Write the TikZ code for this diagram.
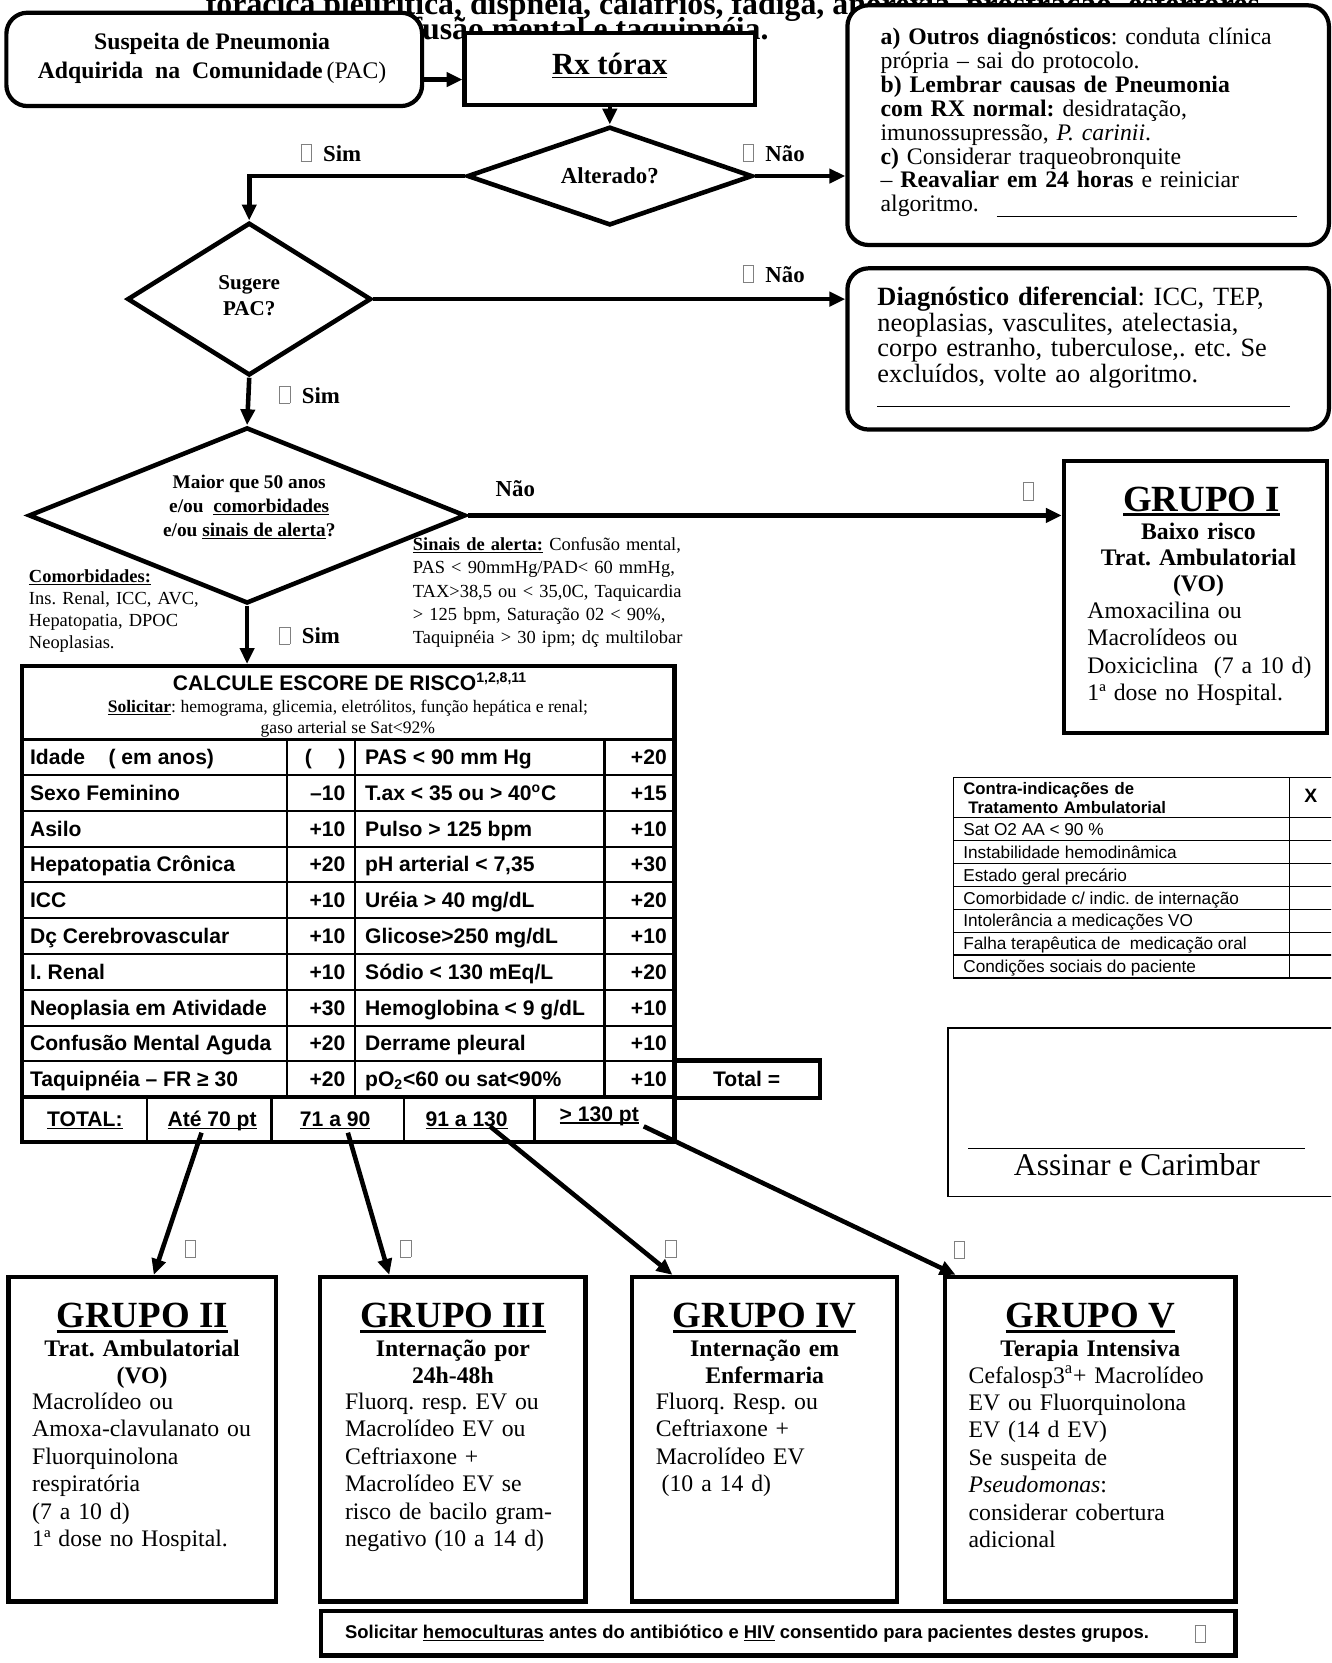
\documentclass[tikz,border=0pt]{standalone}
\usepackage{fontspec}
\setmainfont{Liberation Serif}
\setsansfont{Liberation Sans}
\usetikzlibrary{arrows.meta,shapes.geometric,calc}
\newcommand{\tofu}{{\color{black!50}\setlength\fboxsep{0pt}\setlength\fboxrule{0.45pt}\fbox{\rule{0pt}{0.72em}\hspace{0.42em}}}}
\newcommand{\fsz}[2]{\fontsize{#1}{#2}\selectfont}
\newsavebox\ulbx
\newcommand{\thul}[2][0.8pt]{\sbox\ulbx{#2}\leavevmode\rlap{\rule[-0.13em]{\wd\ulbx}{#1}}\usebox\ulbx}
\frenchspacing
\begin{document}
\frenchspacing
\begin{tikzpicture}[x=0.6035pt,y=-0.6035pt,
  box/.style={draw, line width=2.4pt, fill=white, inner sep=0pt},
  sz/.style 2 args={minimum width=#1*0.6035pt, minimum height=#2*0.6035pt},
  rbox/.style={box, rounded corners=12pt},
  dia/.style={diamond, draw, line width=2.6pt, fill=white, inner sep=0pt, aspect=1},
  arr/.style={line width=2.6pt, -{Triangle[length=9pt,width=8pt]}},
  lbl/.style={font=\bfseries\fsz{13}{15}, inner sep=0pt, anchor=base west},
  tl/.style={inner sep=0pt, anchor=base west, align=left},
  tc/.style={inner sep=0pt, anchor=base, align=center},
  cell/.style={inner sep=0pt, font=\sffamily\bfseries\fsz{12}{14}},
]
\useasboundingbox (0,0) rectangle (1255,1568);
\fill[white] (0,0) rectangle (1255,1568);
\clip (0,0) rectangle (1255,1568);

% background text partly hidden
\node[font=\bfseries\fsz{18.1}{20}, inner sep=0pt, anchor=base] (toptxt1) at (691,14) {torácica pleurítica, dispnéia, calafrios, fadiga, anorexia, prostração, estertores};
\node[font=\bfseries\fsz{18.1}{20}, inner sep=0pt, anchor=base east] (toptxt2) at (725,37) {confusão mental e taquipnéia.};

% top boxes
\node[rbox, sz={392}{88}] (susp) at (202,56) {};
\node[font=\bfseries\fsz{13.5}{16}, align=center, inner sep=0pt] (susptxt) at (200,55) {Suspeita de Pneumonia\\Adquirida~~na~~Comunidade\,{\mdseries(PAC)}};
\node[box, sz={274}{68}] (rx) at (575,65) {};
\node[font=\bfseries\fsz{17.5}{20}, inner sep=0pt] (rxtxt) at (575,62) {\thul[1.1pt]{Rx tórax}};

\node[dia, sz={269}{93}] (alt) at (575,166) {};
\node[font=\bfseries\fsz{13}{15}, inner sep=0pt] (alttxt) at (575,166) {Alterado?};

\node[rbox, sz={454}{226}] (box1) at (1026,118) {};
\node[tl, text width=290pt, font=\fsz{13.5}{13.6}] (box1txt) at (830,42) {\textbf{a) Outros diagnósticos}: conduta clínica\\própria – sai do protocolo.\\\textbf{b) Lembrar causas de Pneumonia}\\\textbf{com RX normal:} desidratação,\\imunossupressão, \textit{P. carinii}.\\\textbf{c)} Considerar traqueobronquite\\– \textbf{Reavaliar em 24 horas} e reiniciar\\algoritmo.};
\draw[line width=0.7pt] (940,204) -- (1223,204);

\node[dia, sz={230}{144}] (sug) at (235,282) {};
\node[font=\bfseries\fsz{12}{14.5}, align=center, inner sep=0pt] (sugtxt) at (235,279) {Sugere\\PAC?};

\node[rbox, sz={454}{152}] (box2) at (1026,329) {};
\node[tl, text width=300pt, font=\fsz{15}{13.6}] (box2txt) at (827,288) {\textbf{Diagnóstico diferencial}: ICC, TEP,\\neoplasias, vasculites, atelectasia,\\corpo estranho, tuberculose,. etc. Se\\excluídos, volte ao algoritmo.};
\draw[line width=0.7pt] (827,383) -- (1216,383);

\node[dia, sz={412}{166}] (maior) at (233,486) {};
\node[font=\bfseries\fsz{11}{13.6}, align=center, inner sep=0pt] (maiortxt) at (235,478) {Maior que 50 anos\\e/ou~~\thul[0.7pt]{comorbidades}\\e/ou \thul[0.7pt]{sinais de alerta}?};

% Grupo I
\node[box, sz={248}{256}] (g1) at (1127,563) {};
\node[font=\bfseries\fsz{21}{24}, inner sep=0pt, anchor=base] (g1t) at (1133,482) {\thul[1.5pt]{GRUPO I}};
\node[tc, text width=160pt, font=\bfseries\fsz{13.5}{14.8}] (g1s) at (1130,509) {Baixo risco\\Trat. Ambulatorial\\(VO)};
\node[tl, text width=200pt, font=\fsz{13.5}{15.6}] (g1b) at (1025,583) {Amoxacilina ou\\Macrolídeos ou\\Doxiciclina~~(7 a 10 d)\\1ª dose no Hospital.};

% side notes
\node[tl, text width=150pt, font=\fsz{10.5}{12.5}] (comorb) at (27,549) {\thul[0.6pt]{\textbf{Comorbidades:}}\\Ins. Renal, ICC, AVC,\\Hepatopatia, DPOC\\Neoplasias.};
\node[tl, text width=220pt, font=\fsz{10.5}{13.3}] (sinais) at (389,519) {\thul[0.6pt]{\textbf{Sinais de alerta:}} Confusão mental,\\PAS < 90mmHg/PAD< 60 mmHg,\\TAX>38,5 ou < 35,0C, Taquicardia\\> 125 bpm, Saturação 02 < 90\%,\\Taquipnéia > 30 ipm; dç multilobar};

% score table
\node[box, sz={615}{449}] (tab) at (328.5,852.5) {};
\draw[line width=1.6pt] (21,697) -- (636,697);
\foreach \k in {1,...,9} \draw[line width=1.2pt] (21,{697+\k*33.75}) -- (636,{697+\k*33.75});
\draw[line width=2pt] (21,1034.5) -- (636,1034.5);
\foreach \xx in {271,335,570} \draw[line width=1.2pt] (\xx,697) -- (\xx,1034.5);
\foreach \xx in {139,256,381,504} \draw[line width=1.2pt] (\xx,1034.5) -- (\xx,1077);
\node[font=\sffamily\bfseries\fsz{12}{14}, inner sep=0pt, anchor=base] (tabtitle) at (330,651) {CALCULE ESCORE DE RISCO\textsuperscript{1,2,8,11}};
\node[font=\fsz{10}{12}, inner sep=0pt, anchor=base] (tabsol) at (328,672) {\thul[0.6pt]{\textbf{Solicitar}}: hemograma, glicemia, eletrólitos, função hepática e renal;};
\node[font=\fsz{10}{12}, inner sep=0pt, anchor=base] (tabgas) at (328,692) {gaso arterial se Sat<92\%};
\foreach \i/\a/\b/\c/\d in {
 0/{Idade~~~~( em anos)}/{(\hspace{15pt})}/{PAS < 90 mm Hg}/{+20},
 1/{Sexo Feminino}/{–10}/{T.ax < 35 ou > 40\textsuperscript{o}C}/{+15},
 2/{Asilo}/{+10}/{Pulso > 125 bpm}/{+10},
 3/{Hepatopatia Crônica}/{+20}/{pH arterial < 7,35}/{+30},
 4/{ICC}/{+10}/{Uréia > 40 mg/dL}/{+20},
 5/{Dç Cerebrovascular}/{+10}/{Glicose>250 mg/dL}/{+10},
 6/{I. Renal}/{+10}/{Sódio < 130 mEq/L}/{+20},
 7/{Neoplasia em Atividade}/{+30}/{Hemoglobina < 9 g/dL}/{+10},
 8/{Confusão Mental Aguda}/{+20}/{Derrame pleural}/{+10},
 9/{Taquipnéia – FR ≥ 30}/{+20}/{pO\textsubscript{2}<60 ou sat<90\%}/{+10}} {
  \node[cell, anchor=base west] (ra\i) at (28,{697+(\i+0.5)*33.75+7}) {\a};
  \node[cell, anchor=base east] (rb\i) at (326,{697+(\i+0.5)*33.75+7}) {\b};
  \node[cell, anchor=base west] (rc\i) at (344,{697+(\i+0.5)*33.75+7}) {\c};
  \node[cell, anchor=base east] (rd\i) at (629,{697+(\i+0.5)*33.75+7}) {\d};
}
\node[cell, anchor=base] (tot0) at (80,1062) {\thul[0.8pt]{TOTAL:}};
\node[cell, anchor=base] (tot1) at (200,1062) {\thul[0.8pt]{Até 70 pt}};
\node[cell, anchor=base] (tot2) at (316,1062) {\thul[0.8pt]{71 a 90}};
\node[cell, anchor=base] (tot3) at (440,1062) {\thul[0.8pt]{91 a 130}};
\node[cell, anchor=base] (tot4) at (565,1057) {\thul[0.8pt]{> 130 pt}};
\node[box, sz={137}{35}] (totbox) at (704.5,1017.5) {};
\node[cell, anchor=base] (tottxt) at (704,1024) {Total =};

% contra-indicacoes table
\draw[line width=0.8pt] (899,733) rectangle (1262,922.2);
\draw[line width=0.8pt] (1216,733) -- (1216,922.2);
\foreach \k in {0,...,6} \draw[line width=0.8pt] (899,{771+\k*21.6}) -- (1262,{771+\k*21.6});
\node[tl, text width=200pt, font=\sffamily\bfseries\fsz{9.5}{11}] (ci0) at (908,749) {Contra-indicações de\\\hspace{0.3em}Tratamento Ambulatorial};
\node[font=\sffamily\bfseries\fsz{11}{13}, inner sep=0pt, anchor=base] (cix) at (1236,757) {X};
\foreach \i/\t in {1/{Sat O2 AA < 90 \%},2/{Instabilidade hemodinâmica},3/{Estado geral precário},4/{Comorbidade c/ indic. de internação},5/{Intolerância a medicações VO},6/{Falha terapêutica de~~medicação oral},7/{Condições sociais do paciente}}
  \node[inner sep=0pt, anchor=base west, font=\sffamily\fsz{9.8}{11}] (ci\i) at (908,{771+\i*21.6-5}) {\t};

% assinar
\draw[line width=0.9pt] (894,969) rectangle (1262,1128);
\draw[line width=0.6pt] (913,1083) -- (1230,1083);
\node[font=\fsz{18}{20}, inner sep=0pt, anchor=base] (assin) at (1072,1108) {Assinar e Carimbar};

% grupos II - V
\node[box, sz={252}{306}] (g2) at (134,1357) {};
\node[box, sz={250}{306}] (g3) at (427,1357) {};
\node[box, sz={250}{306}] (g4) at (721,1357) {};
\node[box, sz={274}{306}] (g5) at (1028,1357) {};
\node[font=\bfseries\fsz{21}{24}, inner sep=0pt, anchor=base] (g2t) at (134,1252) {\thul[1.5pt]{GRUPO II}};
\node[font=\bfseries\fsz{21}{24}, inner sep=0pt, anchor=base] (g3t) at (427,1252) {\thul[1.5pt]{GRUPO III}};
\node[font=\bfseries\fsz{21}{24}, inner sep=0pt, anchor=base] (g4t) at (721,1252) {\thul[1.5pt]{GRUPO IV}};
\node[font=\bfseries\fsz{21}{24}, inner sep=0pt, anchor=base] (g5t) at (1028,1252) {\thul[1.5pt]{GRUPO V}};
\node[tc, text width=150pt, font=\bfseries\fsz{13.5}{15.1}] (g2s) at (134,1279) {Trat. Ambulatorial\\(VO)};
\node[tc, text width=150pt, font=\bfseries\fsz{13.5}{15.1}] (g3s) at (427,1279) {Internação por\\24h-48h};
\node[tc, text width=150pt, font=\bfseries\fsz{13.5}{15.1}] (g4s) at (721,1279) {Internação em\\Enfermaria};
\node[tc, text width=150pt, font=\bfseries\fsz{13.5}{15.1}] (g5s) at (1028,1279) {Terapia Intensiva};
\node[tl, text width=150pt, font=\fsz{13.5}{15.6}] (g2b) at (30,1329) {Macrolídeo ou\\Amoxa-clavulanato ou\\Fluorquinolona\\respiratória\\(7 a 10 d)\\1ª dose no Hospital.};
\node[tl, text width=150pt, font=\fsz{13.5}{15.6}] (g3b) at (325,1329) {Fluorq. resp. EV ou\\Macrolídeo EV ou\\Ceftriaxone +\\Macrolídeo EV se\\risco de bacilo gram-\\negativo (10 a 14 d)};
\node[tl, text width=150pt, font=\fsz{13.5}{15.6}] (g4b) at (618,1329) {Fluorq. Resp. ou\\Ceftriaxone +\\Macrolídeo EV\\\hspace{0.25em}(10 a 14 d)};
\node[tl, text width=160pt, font=\fsz{13.5}{15.6}] (g5b) at (913,1304) {Cefalosp3\textsuperscript{a}+ Macrolídeo\\EV ou Fluorquinolona\\EV (14 d EV)\\* Se suspeita de\\\textit{Pseudomonas}:\\considerar cobertura\\adicional};

% bottom note
\node[box, sz={862}{42}] (hemo) at (734,1540) {};
\node[font=\sffamily\bfseries\fsz{10.5}{12}, inner sep=0pt, anchor=base west] (hemotxt) at (325,1545) {Solicitar \thul[0.6pt]{hemoculturas} antes do antibiótico e \thul[0.6pt]{HIV} consentido para pacientes destes grupos.};
\node[font=\fsz{13}{15}, inner sep=0pt, anchor=base west] (hemotofu) at (1126,1548) {\tofu};

% labels
\node[lbl] (simA) at (283,152) {\tofu\ \ Sim};
\node[lbl] (naoA) at (700,152) {\tofu\ \ Não};
\node[lbl] (naoB) at (700,266) {\tofu\ \ Não};
\node[lbl] (simB) at (263,380) {\tofu\ \ Sim};
\node[lbl] (naoC) at (467,468) {Não};
\node[lbl] (tofuC) at (964,471) {\tofu};
\node[lbl] (simC) at (263,607) {\tofu\ \ Sim};
\node[lbl] (tofu2) at (174,1185) {\tofu};
\node[lbl] (tofu3) at (377,1185) {\tofu};
\node[lbl] (tofu4) at (627,1185) {\tofu};
\node[lbl] (tofu5) at (899,1186) {\tofu};

% connectors
\draw[arr] (susp.east |- 0,75) -- (rx.west |- 0,75);
\draw[arr] (rx.south) -- (alt.north);
\draw[arr] (alt.west) -| (sug.north);
\draw[arr] (alt.east) -- (box1.west |- alt.east);
\draw[arr] (sug.east) -- (box2.west |- sug.east);
\draw[arr] (sug.south) -- (maior.north);
\draw[arr] (maior.east) -- (g1.west |- maior.east);
\draw[arr] (maior.south) -- (maior.south |- tab.north);
\coordinate (a1) at (190,1068);
\coordinate (a2) at (328,1068);
\coordinate (a3) at (462,1062);
\coordinate (a4) at (607,1062);
\draw[arr] (a1) -- ($(g2.north west)+(139,0)$);
\draw[arr] (a2) -- ($(g3.north west)+(67,0)$);
\draw[arr] (a3) -- ($(g4.north west)+(40,0)$);
\draw[arr] (a4) -- ($(g5.north west)+(12,0)$);
\end{tikzpicture}
\end{document}
